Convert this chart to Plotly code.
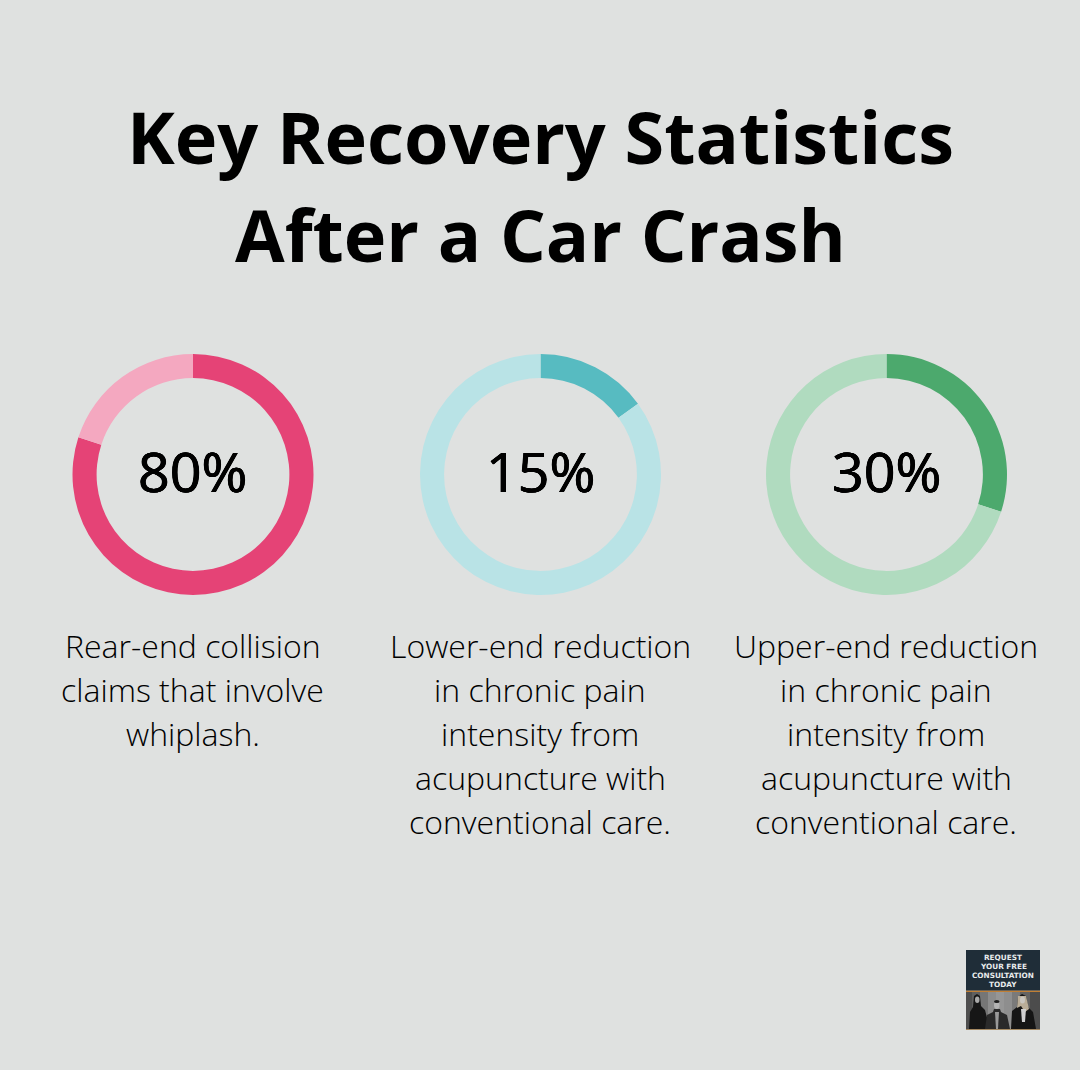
import plotly.graph_objects as go

W, H = 1080, 1070
BG = "#dfe1e0"

title_lines = ["Key Recovery Statistics", "After a Car Crash"]
values = [80, 15, 30]
labels = ["80%", "15%", "30%"]
dark = ["#e54376", "#57bbc1", "#4ca96d"]
light = ["#f4a8c0", "#b9e3e6", "#b0dbbf"]
captions = [
    ["Rear-end collision", "claims that involve", "whiplash."],
    ["Lower-end reduction", "in chronic pain", "intensity from", "acupuncture with", "conventional care."],
    ["Upper-end reduction", "in chronic pain", "intensity from", "acupuncture with", "conventional care."],
]
logo_lines = ["REQUEST", "YOUR FREE", "CONSULTATION", "TODAY"]
centers_x = [193, 540.5, 886.5]
center_y = 474.5
R = 120.5

def fx(x): return x / W
def fy(y): return 1 - y / H

fig = go.Figure()
for v, cx, d, l in zip(values, centers_x, dark, light):
    fig.add_trace(go.Pie(
        values=[v, 100 - v], hole=0.8, sort=False, direction="clockwise", rotation=0,
        marker=dict(colors=[d, l], line=dict(width=0)), textinfo="none", showlegend=False,
        hoverinfo="skip",
        domain=dict(x=[fx(cx - R), fx(cx + R)], y=[fy(center_y + R), fy(center_y - R)]),
    ))

ann = []
def text(x, y, s, size, color="#000000", family="Open Sans", weight=400, shadow=None):
    font = dict(family=family, size=size, color=color, weight=weight)
    if shadow:
        font["shadow"] = shadow
    ann.append(dict(x=fx(x), y=fy(y), xref="paper", yref="paper", text=s, showarrow=False,
                    xanchor="center", yanchor="middle", font=font))

for line, y in zip(title_lines, [136.5, 234.5]):
    text(540, y, line, 72, weight=700)
for lab, cx in zip(labels, centers_x):
    text(cx - 0.3, 471, lab, 55.5, weight=500, shadow="0.45px 0 0 #000, -0.45px 0 0 #000, 0 0.3px 0 #000, 0 -0.3px 0 #000")
for cap, cx in zip(captions, centers_x):
    for i, line in enumerate(cap):
        text(cx - 0.1, 645.5 + 44 * i, line, 32, color="#000000", weight=300)
for i, line in enumerate(logo_lines):
    text(1003, 957.3 + 9 * i, line, 7.3, color="#e8ebec", family="DejaVu Sans", weight=700)

def rect(x0, y0, x1, y1, color):
    return dict(type="rect", xref="paper", yref="paper", x0=fx(x0), x1=fx(x1), y0=fy(y0), y1=fy(y1),
                fillcolor=color, line=dict(width=0), layer="below")

def oval(x0, y0, x1, y1, color):
    return dict(type="circle", xref="paper", yref="paper", x0=fx(x0), x1=fx(x1), y0=fy(y0), y1=fy(y1),
                fillcolor=color, line=dict(width=0), layer="below")

def path(pts, color):
    d = "M " + " L ".join(f"{fx(a):.5f},{fy(b):.5f}" for a, b in pts) + " Z"
    return dict(type="path", xref="paper", yref="paper", path=d, fillcolor=color, line=dict(width=0), layer="below")

photo_bands = [(966, "#4e4e4e"), (972, "#5f5f5f"), (980, "#767676"), (988, "#8c8c8c"), (996, "#969696"),
               (1004, "#8e8e8e"), (1012, "#7a7a7a"), (1020, "#636363"), (1030, "#4c4c4c")]
edges = [b[0] for b in photo_bands] + [1040]

shapes = [rect(966, 950, 1040, 990.7, "#1f2d38")]
for (x0, c), x1 in zip(photo_bands, edges[1:]):
    shapes.append(rect(x0, 992, x1, 1029.2, c))
shapes += [
    rect(966, 990.7, 1040, 991.9, "#c07f35"),
    rect(966, 1029.2, 1040, 1030, "#9a7440"),
    # left woman
    path([(969, 1029), (970, 1012), (973, 1007), (974, 996), (977, 994), (980, 996), (981, 1006), (985, 1010), (990, 1029)], "#161616"),
    oval(975, 996.5, 979.5, 1003, "#a9a9a9"),
    # centre man
    path([(985, 1029), (987, 1015), (993, 1012), (994, 1009), (1000, 1009), (1001, 1012), (1007, 1015), (1010, 1029)], "#2a2a2a"),
    path([(995, 1012), (999, 1012), (998, 1029), (996, 1029)], "#9a9a9a"),
    oval(994, 1001, 999.5, 1009, "#b4b4b4"),
    oval(994, 1000, 999.5, 1003, "#1d1d1d"),
    # right woman
    path([(1011, 1029), (1012, 1011), (1017, 1007), (1018, 997), (1022, 994), (1026, 996), (1028, 1007), (1033, 1012), (1036, 1029)], "#151515"),
    path([(1018, 996), (1026, 996), (1029, 1009), (1025, 1012), (1021, 1006), (1017, 1008)], "#b9ad98"),
    oval(1020, 996.5, 1025, 1003.5, "#c9c6c0"),
    path([(1021, 1009), (1026, 1009), (1025, 1022), (1022, 1022)], "#d0d0d0"),
]

fig.update_layout(
    width=W, height=H, autosize=False, margin=dict(l=0, r=0, t=0, b=0),
    paper_bgcolor=BG, plot_bgcolor=BG, annotations=ann, shapes=shapes,
)
fig.write_html("out.html", config=dict(displayModeBar=False),
               post_script="document.body.style.margin='0';document.body.style.background='#dfe1e0';")
